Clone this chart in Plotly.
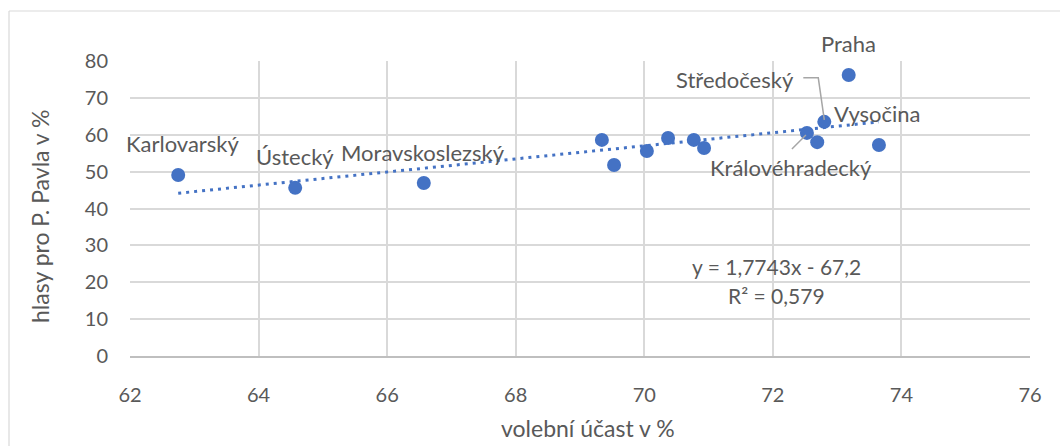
import plotly.graph_objects as go

# --- data ---
turnout = [62.75, 64.57, 66.57, 69.34, 69.53, 70.04, 70.37, 70.77, 70.93, 72.53, 72.69, 72.80, 73.18, 73.65]
votes_pavel = [49.1, 45.6, 46.9, 58.6, 51.8, 55.6, 59.1, 58.6, 56.4, 60.5, 58.0, 63.5, 76.2, 57.2]
region_labels = ["Karlovarský", "Ústecký", "Moravskoslezský", "", "", "", "", "", "",
                 "Královéhradecký", "", "Středočeský", "Praha", "Vysočina"]
trend_slope = 1.7743
trend_intercept = -67.2
r_squared = "0,579"
x_ticks = [62, 64, 66, 68, 70, 72, 74, 76]
y_ticks = [0, 10, 20, 30, 40, 50, 60, 70, 80]

BLUE = "#4472C4"
GRAY_TXT = "#595959"
GRID = "#D9D9D9"
FONT = "Lato"

x0, x1 = min(turnout), max(turnout)
trend_x = [x0, x1]
trend_y = [trend_slope * v + trend_intercept for v in trend_x]

fig = go.Figure()
fig.add_trace(go.Scatter(x=trend_x, y=trend_y, mode="lines",
                         line=dict(color=BLUE, width=3, dash="3px,5px"),
                         hoverinfo="skip", showlegend=False))
fig.add_trace(go.Scatter(x=turnout, y=votes_pavel, mode="markers",
                         marker=dict(color=BLUE, size=14, line=dict(width=0)),
                         showlegend=False))

lbl = {n: (x, y) for n, x, y in zip(region_labels, turnout, votes_pavel) if n}
label_font = dict(family=FONT, size=22, color=GRAY_TXT)
eq_font = dict(family=FONT, size=21, color=GRAY_TXT)

def add_label(text, dx, dy, xanchor="center"):
    x, y = lbl[text]
    fig.add_annotation(x=x, y=y, text=text, showarrow=False, xshift=dx, yshift=dy,
                       xanchor=xanchor, yanchor="middle", font=label_font)

add_label("Karlovarský", 4, 31)
add_label("Ústecký", 0, 31)
add_label("Moravskoslezský", -1, 31)
add_label("Praha", 0, 32)
add_label("Středočeský", -28, 42, "right")
add_label("Vysočina", -1, 32)
add_label("Královéhradecký", -16, -35)

# leader lines
sx, sy = lbl["Středočeský"]
kx, ky = lbl["Královéhradecký"]
px_per_x = 900 / 14
px_per_y = 295 / 80
def dxp(p):
    return p / px_per_x
def dyp(p):
    return p / px_per_y
fig.add_shape(type="path", xref="x", yref="y",
              path=f"M {sx - dxp(21)} {sy + dyp(44)} L {sx - dxp(6)} {sy + dyp(44)} L {sx} {sy + dyp(2)}",
              line=dict(color="#A6A6A6", width=1.5))
fig.add_shape(type="line", xref="x", yref="y",
              x0=kx - dxp(15), y0=ky - dyp(16), x1=kx - dxp(1), y1=ky - dyp(2),
              line=dict(color="#A6A6A6", width=1.5))

# equation
eq_line1 = f"y = {str(trend_slope).replace('.', ',')}x - {str(abs(trend_intercept)).replace('.', ',')}"
eq_line2 = f"R² = {r_squared}"
fig.add_annotation(x=72.06, y=24.2, xref="x", yref="y", text=eq_line1, showarrow=False,
                   font=eq_font, xanchor="center", yanchor="middle")
fig.add_annotation(x=72.06, y=16.5, xref="x", yref="y", text=eq_line2, showarrow=False,
                   font=eq_font, xanchor="center", yanchor="middle")

# axis titles
title_font = dict(family=FONT, size=23, color=GRAY_TXT)
fig.add_annotation(x=(588 - 130) / 900, y=(356 - 428) / 295, xref="paper", yref="paper",
                   text="volební účast v %", showarrow=False, font=title_font,
                   xanchor="center", yanchor="middle")
fig.add_annotation(x=(40 - 130) / 900, y=(356 - 216) / 295, xref="paper", yref="paper",
                   text="hlasy pro P. Pavla v %", showarrow=False, font=title_font, textangle=-90,
                   xanchor="center", yanchor="middle")

# chart border (top and left edges visible in the frame)
bx0 = (9 - 130) / 900
bx1 = (1060 - 130) / 900
by0 = (356 - 446) / 295
by1 = (356 - 11) / 295
fig.add_shape(type="line", xref="paper", yref="paper", x0=bx0, x1=bx1, y0=by1, y1=by1,
              line=dict(color=GRID, width=1.2), layer="below")
fig.add_shape(type="line", xref="paper", yref="paper", x0=bx0, x1=bx0, y0=by0, y1=by1,
              line=dict(color=GRID, width=1.2), layer="below")

axis_common = dict(showgrid=True, gridcolor=GRID, gridwidth=1.5, zeroline=False, automargin=False,
                   tickfont=dict(family=FONT, size=20, color=GRAY_TXT), ticks="")
fig.update_layout(
    width=1060, height=446,
    margin=dict(l=130, r=30, t=61, b=90),
    paper_bgcolor="white", plot_bgcolor="white",
    xaxis=dict(range=[62, 76], tickvals=x_ticks, **axis_common,
               showline=True, linecolor="#BFBFBF", linewidth=1.5,
               ticklabelstandoff=20),
    yaxis=dict(range=[0, 80], tickvals=y_ticks, **axis_common,
               showline=False, ticklabelstandoff=21),
    showlegend=False,
)

fig.write_html("out.html", config={"displayModeBar": False},
               post_script="document.body.style.margin='0';document.body.style.padding='0';document.body.style.overflow='hidden';")
